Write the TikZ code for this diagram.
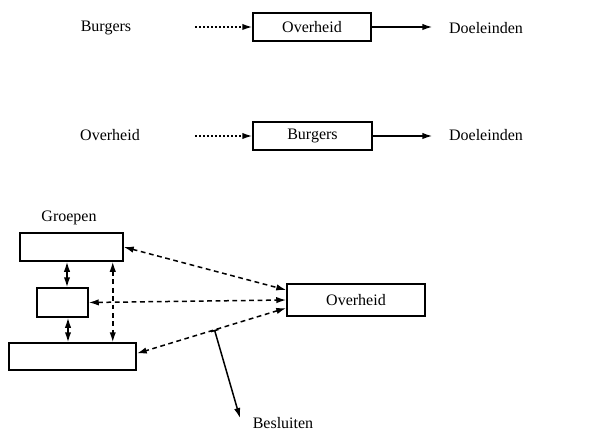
\documentclass[tikz,border=0pt]{standalone}
\usepackage{fontspec}
\setmainfont{Liberation Serif}
\usepackage{tikz}
\usetikzlibrary{arrows.meta,positioning,calc}

\begin{document}
\begin{tikzpicture}[x=0.5pt,y=-0.5pt,line width=0.75pt,
 >={Latex[length=5pt,width=3.2pt]},
 box/.style={draw,inner sep=0pt,font=\fontsize{8}{10}\selectfont},
 lbl/.style={inner sep=0pt,font=\fontsize{8}{10}\selectfont},
 dsh/.style={dash pattern=on 2.4pt off 1.8pt},
 dot/.style={dash pattern=on 0.9pt off 1.1pt}]
 \useasboundingbox (0,0) rectangle (597,432);
 % first line
 \node[lbl] (b1) at (106,28) {Burgers};
 \node[box,minimum width=59pt,minimum height=14pt] (o1) at (312,27) {Overheid};
 \node[lbl] (d1) at (486,28) {Doeleinden};
 \coordinate (s1) at (195,27);
 \draw[dot,->] (s1) -- (o1.west);
 \draw[->] (o1.east) -- ([xshift=-8pt]o1.east -| d1.west);
 % second line
 \node[lbl] (o2) at (110,135) {Overheid};
 \node[box,minimum width=59.5pt,minimum height=14pt] (b2) at (312.5,136) {Burgers};
 \node[lbl] (d2) at (486,135) {Doeleinden};
 \coordinate (s2) at (195,136);
 \draw[dot,->] (s2) -- (b2.west);
 \draw[->] (b2.east) -- ([xshift=-8pt]b2.east -| d2.west);
 % groepen
 \node[lbl] (gr) at (69,218) {Groepen};
 \node[box,minimum width=51.5pt,minimum height=14pt] (g1) at (71.5,247) {};
 \node[box,minimum width=25.5pt,minimum height=14.5pt] (g2) at (62.5,302.5) {};
 \node[box,minimum width=63.5pt,minimum height=13.5pt] (g3) at (72.5,356.5) {};
 \node[box,minimum width=69pt,minimum height=16pt] (ov) at (356,300) {Overheid};
 \draw[<->] ([xshift=2.25pt]g2.north |- g1.south) -- ([xshift=2.25pt]g2.north);
 \draw[<->] ([xshift=2.75pt]g2.south) -- ([xshift=2.75pt]g2.south |- g3.north);
 \draw[dsh,<->] ([xshift=-5.5pt]g1.south east) -- ([xshift=-5.5pt]g1.south east |- g3.north);
 \draw[dsh,<->] (g1.east) -- ([yshift=5pt]ov.west);
 \draw[dsh,<->] (g2.east) -- (ov.west);
 \coordinate (ow) at ([yshift=-4pt]ov.west);
 \draw[dsh,<->] (ow) -- ([yshift=1.5pt]g3.east);
 % besluiten
 \node[lbl] (be) at (283,423) {Besluiten};
 \coordinate (bs) at ($([yshift=1.5pt]g3.east)!0.52!(ow)$);
 \coordinate (bt) at (240,418);
 \draw[{Bar[width=4pt]}->] (bs) -- (bt);
\end{tikzpicture}
\end{document}
